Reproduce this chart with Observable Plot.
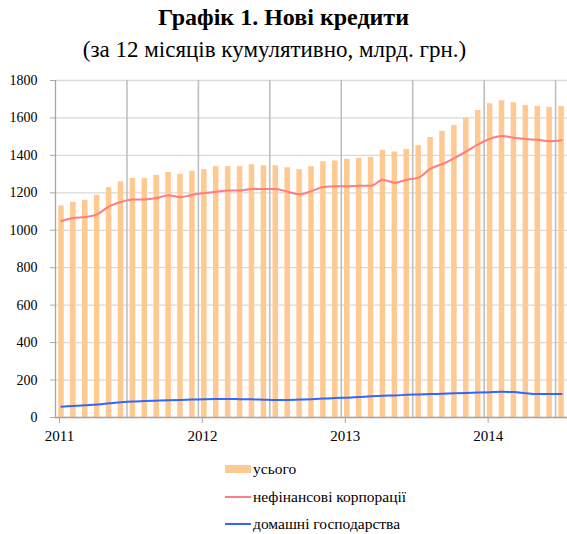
<!DOCTYPE html>
<html><head><meta charset="utf-8">
<script src="https://cdn.jsdelivr.net/npm/d3@7"></script>
<script src="https://cdn.jsdelivr.net/npm/@observablehq/plot@0.6"></script>
<style>
body{margin:0;background:#fff;font-family:"Liberation Serif","Times New Roman",Times,serif;color:#000;}
#wrap{position:relative;width:567px;height:534px;overflow:hidden;}
#title{position:absolute;left:0;width:567px;top:4px;text-align:center;font-weight:bold;font-size:24px;line-height:26px;box-sizing:border-box;}
#subtitle{position:absolute;left:0;width:567px;top:37px;text-align:center;font-size:23px;line-height:25px;box-sizing:border-box;padding-right:18px;}
#chart{position:absolute;left:0;top:64px;}
.leg{position:absolute;left:225px;font-size:15.5px;line-height:16px;display:flex;align-items:center;white-space:nowrap;}
.leg svg{margin-right:2px;}
</style></head><body>
<div id="wrap">
<div id="title">Графік 1. Нові кредити</div>
<div id="subtitle">(за 12 місяців кумулятивно, млрд. грн.)</div>
<div id="chart"></div>
<div id="legend"></div>
</div>
<script>
// Monthly data, Jan 2011 – Jul 2014
const startYear = 2011;
const total = [1130,1149,1160,1187,1228,1258,1277,1277,1293,1309,1299,1315,
               1324,1340,1340,1340,1350,1345,1345,1334,1324,1340,1366,1370,
               1379,1384,1389,1427,1418,1432,1452,1496,1528,1560,1599,1640,
               1676,1692,1681,1667,1661,1656,1661];
const corporations = [1050,1066,1071,1085,1128,1151,1165,1165,1172,1187,1176,1190,
                      1199,1206,1213,1213,1220,1220,1220,1206,1192,1209,1231,1235,
                      1235,1238,1238,1270,1254,1270,1281,1329,1354,1386,1421,1459,
                      1489,1503,1494,1487,1483,1476,1481];
const households = [58,62,66,70,76,82,86,88,90,92,94,96,
                    98,99,99,98,97,95,93,94,96,98,101,104,
                    106,109,113,116,118,121,123,125,127,129,131,133,
                    135,137,136,130,126,126,126];
const yTicks = [0,200,400,600,800,1000,1200,1400,1600,1800];
const yearTicks = [2011,2012,2013,2014];
const halfYearGrid = [2011.5,2012,2012.5,2013,2013.5,2014,2014.5];
const seriesNames = ["усього","нефінансові корпорації","домашні господарства"];
const colors = {total:"#ffc992", corp:"#ff7c80", hh:"#3366ff"};

const rows = total.map((v,i)=>({
  start: startYear + i/12,
  end: startYear + (i+1)/12,
  mid: startYear + (i+0.5)/12,
  total: v, corp: corporations[i], hh: households[i]
}));

const serif = '"Liberation Serif", "Times New Roman", Times, serif';
const chart = Plot.plot({
  width: 567,
  height: 383,
  marginTop: 16,
  marginBottom: 30,
  marginLeft: 55,
  marginRight: 0,
  style: {fontFamily: serif, fontSize: "14px", color:"#000", background:"#fff"},
  x: {domain: [startYear, startYear + total.length/12], axis: null},
  y: {domain: [0,1800], axis: null},
  marks: [
    Plot.gridY(yTicks, {stroke:"#d9d9d9", strokeOpacity:1, strokeWidth:1.3}),
    Plot.ruleX(halfYearGrid, {y1:0, y2:1800, stroke:"#bfbfbf", strokeWidth:1.6}),
    Plot.rectY(rows, {x1:"start", x2:"end", y:"total", fill:colors.total, insetLeft:3.2, insetRight:3.2}),
    Plot.ruleY([0], {stroke:"#a6a6a6", strokeWidth:1.3}),
    Plot.ruleX([startYear], {y1:0, y2:1800, stroke:"#a6a6a6", strokeWidth:1.3}),
    Plot.lineY(rows, {x:"mid", y:"corp", stroke:colors.corp, strokeWidth:2, curve:"monotone-x"}),
    Plot.lineY(rows, {x:"mid", y:"hh", stroke:colors.hh, strokeWidth:2, curve:"monotone-x"}),
    Plot.axisY({ticks: yTicks, tickSize:5, tickPadding:13, fontSize:14, fontFamily: serif, stroke:"#a6a6a6", tickFormat: d=>String(d)}),
    Plot.axisX({ticks: yearTicks, tickSize:6, tickPadding:7, fontSize:15, fontFamily: serif, stroke:"#a6a6a6", dx:4, tickFormat: d=>String(d)})
  ]
});
document.getElementById("chart").appendChild(chart);

// Legend
const leg = document.getElementById("legend");
const items = [
  {name: seriesNames[0], type:"rect", color: colors.total, cy: 469},
  {name: seriesNames[1], type:"line", color: colors.corp, cy: 497},
  {name: seriesNames[2], type:"line", color: colors.hh, cy: 524}
];
items.forEach(it=>{
  const div = document.createElement("div");
  div.className = "leg";
  div.style.top = (it.cy - 8) + "px";
  const sw = it.type === "rect"
    ? `<svg width="26" height="16"><rect x="0" y="4" width="26" height="8" fill="${it.color}"/></svg>`
    : `<svg width="26" height="16"><line x1="0" x2="26" y1="8" y2="8" stroke="${it.color}" stroke-width="2"/></svg>`;
  div.innerHTML = sw + `<span>${it.name}</span>`;
  leg.appendChild(div);
});
</script>
</body></html>
